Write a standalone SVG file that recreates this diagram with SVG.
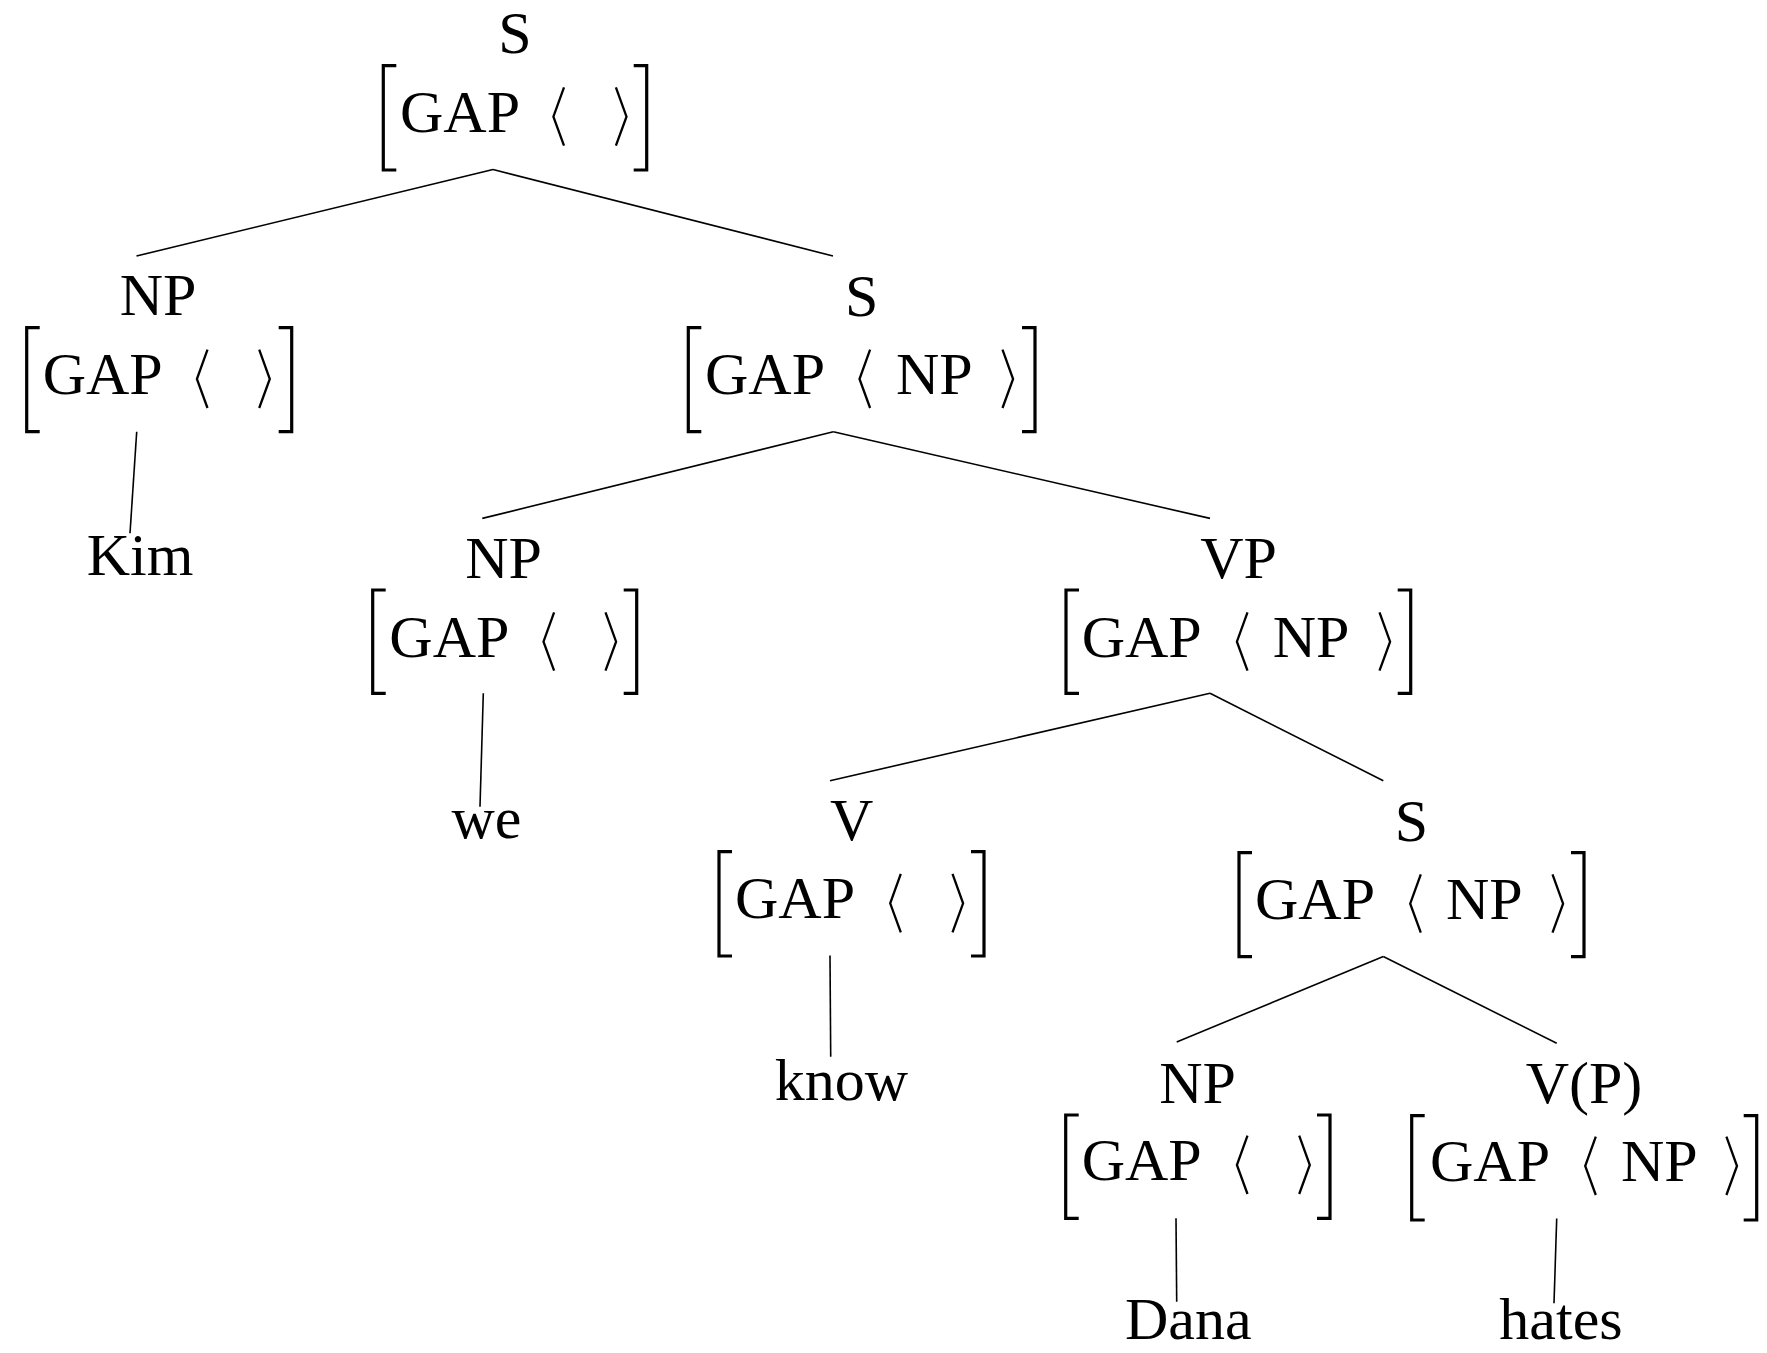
<svg xmlns="http://www.w3.org/2000/svg" width="1767" height="1353" viewBox="0 0 1767 1353">
<style>
text{font-family:"Liberation Serif","Times New Roman",serif;font-size:60px;fill:#000}
.c{text-anchor:middle}
.br{fill:none;stroke:#000;stroke-width:3.2}
.ab{fill:none;stroke:#000;stroke-width:2.3;stroke-linejoin:miter}
.e line{stroke:#000;stroke-width:1.6}
</style>
<defs>
<path id="la" d="M5.3 -44.4L-5.3 -15L5.3 14"/>
<path id="ra" d="M-5.3 -44.4L5.3 -15L-5.3 14"/>
</defs>
<rect width="1767" height="1353" fill="#fff"/>
<g class="e" id="connectors">
<line x1="493" y1="169.5" x2="136.5" y2="256"/>
<line x1="493" y1="169.5" x2="833" y2="256"/>
<line x1="136.7" y1="431.7" x2="130" y2="533.3"/>
<line x1="833.3" y1="431.7" x2="482.3" y2="518.4"/>
<line x1="833.3" y1="431.7" x2="1210" y2="518.4"/>
<line x1="483.3" y1="693.3" x2="480" y2="806.7"/>
<line x1="1210" y1="693.3" x2="830" y2="780.7"/>
<line x1="1210" y1="693.3" x2="1383.3" y2="780.7"/>
<line x1="830" y1="955.5" x2="830.7" y2="1056.7"/>
<line x1="1383.3" y1="956.5" x2="1176.7" y2="1042"/>
<line x1="1383.3" y1="956.5" x2="1556.7" y2="1043.3"/>
<line x1="1176" y1="1218.3" x2="1176.7" y2="1301.7"/>
<line x1="1556.7" y1="1218.5" x2="1554" y2="1303.3"/>
</g>
<g id="n-s0">
<text class="c" x="515" y="53">S</text>
<path class="br" d="M396.3 65.7H383.3V170H396.3M633.7 65.7H646.7V170H633.7"/>
<text x="400" y="131.7">GAP</text>
<use class="ab" href="#la" x="558.7" y="131.7"/><use class="ab" href="#ra" x="621.2" y="131.7"/>
</g>
<g id="n-np1">
<text class="c" x="158" y="315">NP</text>
<path class="br" d="M39.7 327.7H26.7V431.7H39.7M278.7 327.7H291.7V431.7H278.7"/>
<text x="42.7" y="394">GAP</text>
<use class="ab" href="#la" x="202.2" y="394"/><use class="ab" href="#ra" x="264.5" y="394"/>
</g>
<g id="n-kim"><text class="c" x="140" y="575">Kim</text></g>
<g id="n-s1">
<text class="c" x="861.7" y="315.7">S</text>
<path class="br" d="M701.3 327.7H688.3V431.7H701.3M1022 327.7H1035V431.7H1022"/>
<text x="705" y="394">GAP</text>
<use class="ab" href="#la" x="864.8" y="394"/><text x="896" y="394">NP</text><use class="ab" href="#ra" x="1007.8" y="394"/>
</g>
<g id="n-np2">
<text class="c" x="503.5" y="578.3">NP</text>
<path class="br" d="M385.7 590H372.7V693.3H385.7M623.7 590H636.7V693.3H623.7"/>
<text x="389.3" y="656.7">GAP</text>
<use class="ab" href="#la" x="548.8" y="656.7"/><use class="ab" href="#ra" x="610.8" y="656.7"/>
</g>
<g id="n-we"><text class="c" x="486.5" y="838.3">we</text></g>
<g id="n-vp">
<text class="c" x="1238.5" y="578.3">VP</text>
<path class="br" d="M1079 590H1066V693.3H1079M1397.7 590H1410.7V693.3H1397.7"/>
<text x="1081.7" y="656.7">GAP</text>
<use class="ab" href="#la" x="1242.2" y="656.7"/><text x="1272.7" y="656.7">NP</text><use class="ab" href="#ra" x="1384.8" y="656.7"/>
</g>
<g id="n-v">
<text class="c" x="851.6" y="840">V</text>
<path class="br" d="M732 851.7H719V956H732M971 851.7H984V956H971"/>
<text x="735" y="918.3">GAP</text>
<use class="ab" href="#la" x="895.5" y="918.3"/><use class="ab" href="#ra" x="957.8" y="918.3"/>
</g>
<g id="n-know"><text class="c" x="841.5" y="1100">know</text></g>
<g id="n-s2">
<text class="c" x="1411.5" y="840.7">S</text>
<path class="br" d="M1252 852.7H1239V956.7H1252M1571 852.7H1584V956.7H1571"/>
<text x="1255" y="918.7">GAP</text>
<use class="ab" href="#la" x="1415.5" y="918.7"/><text x="1446" y="918.7">NP</text><use class="ab" href="#ra" x="1557.8" y="918.7"/>
</g>
<g id="n-np3">
<text class="c" x="1197.5" y="1102.7">NP</text>
<path class="br" d="M1078.7 1115H1065.7V1218.3H1078.7M1317 1115H1330V1218.3H1317"/>
<text x="1081.7" y="1180">GAP</text>
<use class="ab" href="#la" x="1242.2" y="1180"/><use class="ab" href="#ra" x="1304.5" y="1180"/>
</g>
<g id="n-dana"><text class="c" x="1188.3" y="1339">Dana</text></g>
<g id="n-vp4">
<text class="c" x="1584" y="1103.3">V(P)</text>
<path class="br" d="M1424.7 1115.7H1411.7V1220H1424.7M1743.7 1115.7H1756.7V1220H1743.7"/>
<text x="1430" y="1181">GAP</text>
<use class="ab" href="#la" x="1590.5" y="1181"/><text x="1621" y="1181">NP</text><use class="ab" href="#ra" x="1731.7" y="1181"/>
</g>
<g id="n-hates"><text class="c" x="1561" y="1339">hates</text></g>
</svg>
